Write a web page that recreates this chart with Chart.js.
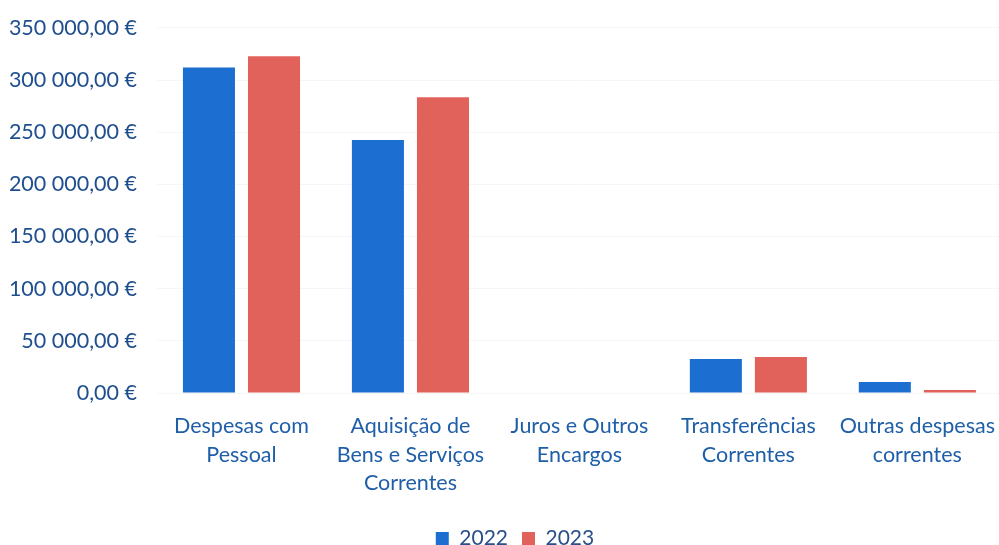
<!DOCTYPE html>
<html><head><meta charset="utf-8">
<script src="https://cdn.jsdelivr.net/npm/chart.js@4/dist/chart.umd.min.js"></script>
<style>html,body{margin:0;padding:0;background:#fff;overflow:hidden}#wrap{width:1006px;height:564px;margin-top:-5px}</style>
</head><body><div id="wrap"><canvas id="c"></canvas></div>
<script>
const categories = [["Despesas com","Pessoal"],["Aquisição de","Bens e Serviços","Correntes"],["Juros e Outros","Encargos"],["Transferências","Correntes"],["Outras despesas","correntes"]];
const values2022 = [312000, 242500, 0, 32500, 10500];
const values2023 = [322800, 283500, 0, 34500, 2800];
const seriesLabels = ["2022","2023"];
const yTicks = [0,50000,100000,150000,200000,250000,300000,350000];

const fmt = v => {
  const s = Math.round(v).toString().replace(/\B(?=(\d{3})+(?!\d))/g, " ");
  return s + ",00 €";
};

const shiftLegend = {
  id: 'shiftLegend',
  afterLayout(chart) {
    if (chart.legend) { chart.legend.left += 12; chart.legend.right += 12; }
  }
};

new Chart(document.getElementById('c'), {
  type: 'bar',
  data: {
    labels: categories,
    datasets: [
      {label: seriesLabels[0], data: values2022, backgroundColor: '#1c6fd0', barPercentage: 0.8, categoryPercentage: 0.77},
      {label: seriesLabels[1], data: values2023, backgroundColor: '#e0625b', barPercentage: 0.8, categoryPercentage: 0.77}
    ]
  },
  plugins: [shiftLegend],
  options: {
    responsive: true, maintainAspectRatio: false, animation: false,
    layout: {padding: {top: 0, right: 0, left: 0, bottom: 0}},
    plugins: {
      legend: {position: 'bottom', labels: {boxWidth: 13, boxHeight: 13, color: '#2a4f8a', font: {family: 'Lato', size: 21}, padding: 14}},
      tooltip: {enabled: false}
    },
    scales: {
      x: {
        grid: {display: false}, border: {display: false},
        ticks: {color: '#1f5ea8', font: {family: 'Lato', size: 21.5, lineHeight: 1.32}, maxRotation: 0, autoSkip: false, padding: 11},
        afterFit: ax => { ax.height = 121; }
      },
      y: {
        min: 0, max: 350000,
        afterBuildTicks: ax => { ax.ticks = yTicks.map(v => ({value: v})); },
        afterFit: ax => { ax.width = 157; },
        grid: {color: '#f6f6f6', drawTicks: false}, border: {display: false},
        ticks: {color: '#1f4f8f', font: {family: 'Lato', size: 21.5}, padding: 20, callback: v => fmt(v)}
      }
    }
  }
});
</script></body></html>
